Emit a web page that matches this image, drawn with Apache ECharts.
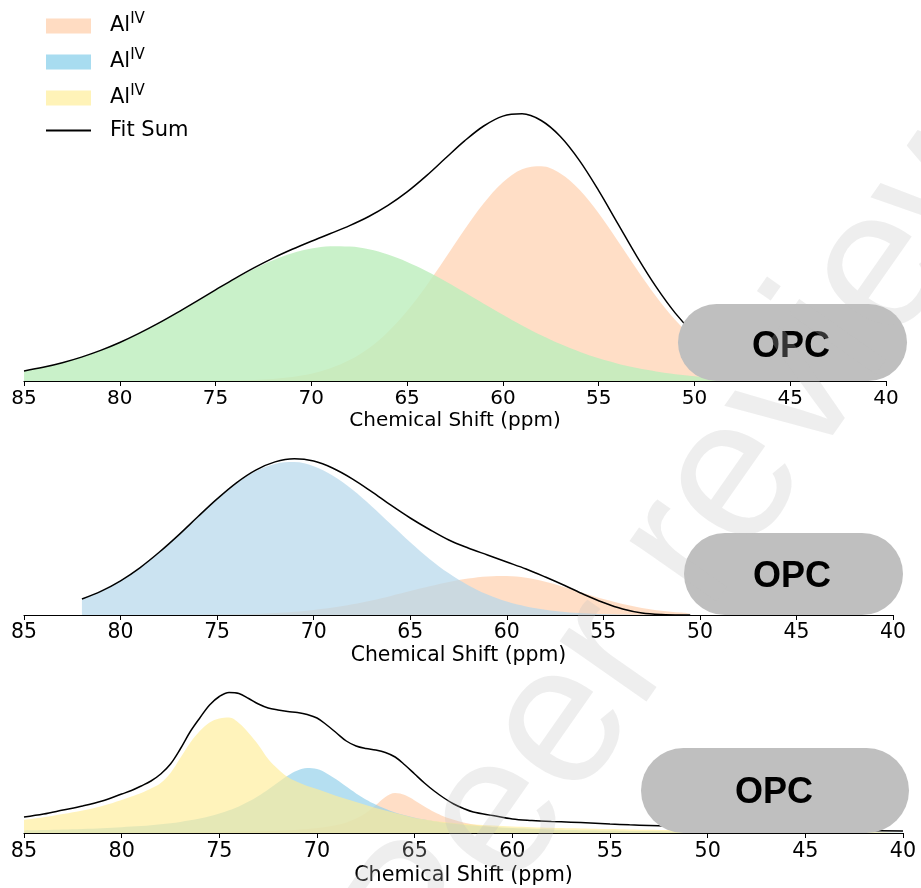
<!DOCTYPE html>
<html>
<head>
<meta charset="utf-8">
<script src="https://cdn.jsdelivr.net/npm/echarts@6/dist/echarts.min.js"></script>
<style>html,body{margin:0;padding:0;background:#fff}#c{width:921px;height:888px}</style>
</head>
<body>
<div id="c"></div>
<script>
// ---------- data (intensity in a.u.) ----------
const ticks = [40, 45, 50, 55, 60, 65, 70, 75, 80, 85];
const axisTitle = 'Chemical Shift (ppm)';

// Panel 1
const p1Ppm = [85,84,83,82,81,80,79,78,77,76,75,74,73,72,71,70,69,68,67,66,65,64,63,62,61,60,59,58,57,56,55,54,53,52,51,50,49,48,47,46,45];
const p1Green = [10.1,13.7,18.3,23.9,30.6,38.5,47.6,57.6,68.4,79.6,90.9,101.9,112.0,120.8,127.7,132.5,134.8,134.5,131.7,126.5,119.1,110.1,99.8,88.7,77.3,66.2,55.5,45.7,36.9,29.2,22.7,17.3,12.9,9.5,6.8,4.8,3.3,2.3,1.5,1.0,0.6];
const p1Orange = [0,0,0,0,0,0,0,0,0,0.1,0.2,0.5,1.1,2.1,4.0,7.3,12.7,20.9,32.8,49.1,70.0,95.0,122.9,151.4,177.7,198.7,211.7,214.8,207.6,191.2,167.7,140.1,111.5,84.6,61.1,42.0,27.6,17.2,10.2,5.8,3.1];
const p1Fit = [10.1,13.7,18.3,23.9,30.6,38.5,47.6,57.6,68.4,79.7,91.1,102.4,113.1,122.9,131.7,139.8,147.5,155.4,164.5,175.6,189.1,205.1,222.7,240.1,255.0,264.9,267.2,260.5,244.5,220.4,190.4,157.4,124.4,94.1,67.9,46.8,30.9,19.5,11.7,6.8,3.7];

// Panel 2
const p2Ppm = [82,81,80,79,78,77,76,75,74,73,72,71,70,69,68,67,66,65,64,63,62,61,60,59,58,57,56,55,54,53,52,51,50.5];
const p2Blue = [16.0,23.9,34.2,47.2,62.6,79.8,98.0,115.7,131.5,143.7,151.1,152.9,148.8,139.3,125.5,108.8,90.7,72.7,56.1,41.7,29.8,20.5,13.5,8.6,5.3,3.1,1.8,1.0,0.5,0.2,0.1,0.05,0.03];
const p2Orange = [0,0,0,0,0.1,0.1,0.2,0.4,0.7,1.2,2.0,3.3,5.1,7.5,10.7,14.6,19.1,23.9,28.7,33.0,36.4,38.5,38.9,37.2,33.3,27.8,21.8,16.0,11.0,7.1,4.3,2.4,1.8];
const p2Fit = [16.0,23.9,34.2,47.2,62.7,79.9,98.2,116.1,132.2,144.9,153.1,156.2,153.9,146.8,136.2,123.4,109.8,97.0,85.5,75.0,67.0,60.0,53.0,46.0,38.0,29.5,20.5,12.5,6.0,2.0,0.4,0,0];

// Panel 3
const p3Ppm = [85,84,83,82,81,80,79.5,79,78.5,78,77.5,77,76.5,76,75.5,75,74.5,74,73.5,73,72.5,72,71.5,71,70.5,70,69.5,69,68.5,68,67.5,67,66.5,66,65.5,65,64.5,64,63.5,63,62.5,62,61,60,59,58,57,56,55,54,53,52,51,50,48,46,44,42,40];
const p3Yellow = [13.2,15.7,19,22.5,27,33,36.5,40,44.5,50,60,75,90,102,110.5,114.5,115.5,110,100,88,74,64,56,51,47,44,40.5,37,34,31,28,25,22.5,20,17.5,15,13.5,12,11,10,9.2,8.5,7.5,6.5,5.8,5.2,4.7,4.3,3.9,3.5,3.2,2.9,2.6,2.3,1.8,1.4,1.1,0.9,0.7];
const p3Blue = [2.6,3.0,3.5,4.1,4.8,5.8,6.4,7.0,7.8,8.8,9.8,11.1,12.7,14.5,16.7,19.4,22.7,26.6,31.4,37.1,43.6,50.6,57.3,62.5,65.0,63.9,59.6,53.4,46.4,39.6,33.6,28.5,24.2,20.6,17.7,15.3,13.4,11.7,10.3,9.2,8.2,7.4,6.0,5.0,4.3,3.6,3.1,2.7,2.4,2.1,1.9,1.7,1.5,1.4,1.2,1.0,0.8,0.7,0.6];
const p3Orange = [0.2,0.25,0.3,0.35,0.4,0.45,0.5,0.55,0.58,0.6,0.68,0.75,0.82,0.9,1.0,1.1,1.25,1.4,1.55,1.75,2.0,2.35,2.8,3.3,4.0,4.9,6.2,8.0,10.6,14.4,20.0,27.7,36.0,40,37.9,32.6,26.5,21.0,16.5,13.2,10.6,8.6,6.0,4.4,3.3,2.6,2.1,1.7,1.4,1.2,1.0,0.9,0.8,0.7,0.5,0.4,0.3,0.3,0.2];
const p3Fit = [16,19,23,27,32,39,42.5,47,52,59,69,84,101,115,128,136.5,140.5,139.5,134.5,129,125,123,121.5,120.5,118.5,115,108,100,92,87,84.5,83,80.5,76,68,59,50,42,35,29,24.5,21,17.5,14,12.5,11.5,10.8,10,9,8.2,7.5,6.8,6,5.2,4.2,3.4,2.8,2.3,2];

const boxLabel = 'OPC';
const watermark = 'Peer review';

// ---------- chart ----------
const chart = echarts.init(document.getElementById('c'), null, {renderer: 'canvas'});
const FONT = 'DejaVu Sans';

const pairs = (xs, ys) => xs.map((x, i) => [x, ys[i]]);

function xAxis(gi, fs, gap) {
  return {
    gridIndex: gi, type: 'value', min: 40, max: 85, interval: 5, inverse: true,
    axisLine: {show: true, onZero: false, lineStyle: {color: '#000', width: 1.2}},
    axisTick: {show: true, length: 5, lineStyle: {color: '#000', width: 1}},
    axisLabel: {fontSize: fs, color: '#000', fontFamily: FONT, margin: 8},
    splitLine: {show: false},
    name: axisTitle, nameLocation: 'middle', nameGap: gap,
    nameTextStyle: {fontSize: fs, color: '#000', fontFamily: FONT}
  };
}
function yAxis(gi, max) {
  return {gridIndex: gi, type: 'value', min: 0, max: max, show: false};
}
function area(name, gi, xs, ys, color, z) {
  return {
    type: 'line', name, xAxisIndex: gi, yAxisIndex: gi, data: pairs(xs, ys),
    smooth: 0.35, symbol: 'none', showSymbol: false, silent: true,
    lineStyle: {width: 0, opacity: 0}, itemStyle: {color},
    areaStyle: {color, opacity: 1}, z
  };
}
function fit(name, gi, xs, ys) {
  return {
    type: 'line', name, xAxisIndex: gi, yAxisIndex: gi, data: pairs(xs, ys),
    smooth: 0.35, symbol: 'none', showSymbol: false, silent: true,
    lineStyle: {color: '#000', width: 1.5}, itemStyle: {color: '#000'}, z: 10
  };
}

const orangeFill = 'rgba(255,200,160,0.6)';
const boxFont = 'bold 36px "Liberation Sans", Arial';
const option = {
  animation: false,
  backgroundColor: '#fff',
  grid: [
    {left: 24, right: 35, top: 100, height: 281},
    {left: 24, right: 28, top: 445, height: 170},
    {left: 24, right: 18, top: 683, height: 150}
  ],
  xAxis: [xAxis(0, 20, 30), xAxis(1, 20.4, 31), xAxis(2, 20.7, 32)],
  yAxis: [yAxis(0, 281), yAxis(1, 170), yAxis(2, 150)],
  legend: {
    orient: 'vertical', left: 46, top: 12, padding: 0,
    itemWidth: 45, itemHeight: 15, itemGap: 11.5,
    selectedMode: false,
    data: [
      {name: 'AlIV-1', icon: 'rect', itemStyle: {color: '#ffdcc2', borderWidth: 0}},
      {name: 'AlIV-2', icon: 'rect', itemStyle: {color: '#a8dcf0', borderWidth: 0}},
      {name: 'AlIV-3', icon: 'rect', itemStyle: {color: '#fff3b8', borderWidth: 0}},
      {name: 'Fit Sum', icon: 'path://M0,0M45,15M0,6.6L45,6.6L45,8.4L0,8.4Z', itemStyle: {color: '#000', borderWidth: 0}}
    ],
    formatter: n => n === 'Fit Sum' ? '{f|Fit Sum}' : '{a|Al}{s|IV}',
    textStyle: {
      rich: {
        a: {fontSize: 21, fontFamily: FONT, color: '#000', lineHeight: 28, padding: [0, 0, 0, 14]},
        s: {fontSize: 15, fontFamily: FONT, color: '#000', verticalAlign: 'top'},
        f: {fontSize: 21, fontFamily: FONT, color: '#000', lineHeight: 20, padding: [0, 0, 0, 14]}
      }
    }
  },
  series: [
    area('p1-orange', 0, p1Ppm, p1Orange, orangeFill, 2),
    area('p1-green', 0, p1Ppm, p1Green, 'rgba(187,237,187,0.8)', 3),
    fit('p1-fit', 0, p1Ppm, p1Fit),
    area('p2-orange', 1, p2Ppm, p2Orange, orangeFill, 2),
    area('p2-blue', 1, p2Ppm, p2Blue, 'rgba(181,215,235,0.7)', 3),
    fit('p2-fit', 1, p2Ppm, p2Fit),
    area('AlIV-1', 2, p3Ppm, p3Orange, orangeFill, 2),
    area('AlIV-2', 2, p3Ppm, p3Blue, 'rgba(150,210,235,0.7)', 3),
    area('AlIV-3', 2, p3Ppm, p3Yellow, 'rgba(255,236,150,0.65)', 4),
    fit('Fit Sum', 2, p3Ppm, p3Fit)
  ],
  graphic: [
    {type: 'rect', shape: {x: 678, y: 304, width: 229, height: 77, r: 38.5}, style: {fill: '#bfbfbf'}, z: 100},
    {type: 'text', x: 791, y: 347, style: {text: boxLabel, font: boxFont, fill: '#000', align: 'center', verticalAlign: 'middle'}, z: 101},
    {type: 'rect', shape: {x: 684, y: 533, width: 219, height: 82, r: 41}, style: {fill: '#bfbfbf'}, z: 100},
    {type: 'text', x: 792, y: 577, style: {text: boxLabel, font: boxFont, fill: '#000', align: 'center', verticalAlign: 'middle'}, z: 101},
    {type: 'rect', shape: {x: 641, y: 748, width: 268, height: 85, r: 42.5}, style: {fill: '#bfbfbf'}, z: 100},
    {type: 'text', x: 774, y: 793, style: {text: boxLabel, font: boxFont, fill: '#000', align: 'center', verticalAlign: 'middle'}, z: 101},
    {type: 'text', x: 692, y: 540, rotation: 55 * Math.PI / 180,
     style: {text: watermark, font: '200px "Liberation Sans", Arial', fill: 'rgba(194,194,194,0.27)', align: 'center', verticalAlign: 'middle'}, z: 200, silent: true}
  ]
};
chart.setOption(option);
</script>
</body>
</html>
